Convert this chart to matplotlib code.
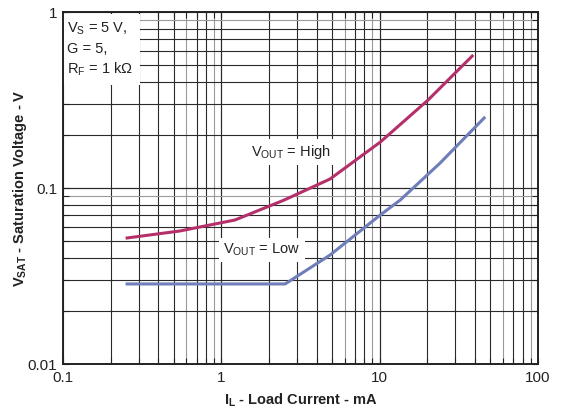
import matplotlib
matplotlib.use("Agg")
import matplotlib.pyplot as plt
from matplotlib.ticker import FixedLocator, NullFormatter, FixedFormatter

plt.rcParams["font.family"] = ["Liberation Sans", "DejaVu Sans"]
plt.rcParams["mathtext.fontset"] = "custom"
plt.rcParams["mathtext.rm"] = "Liberation Sans"
plt.rcParams["mathtext.it"] = "Liberation Sans:italic"
plt.rcParams["mathtext.bf"] = "Liberation Sans:bold"

# load current (mA) vs saturation voltage (V)
high_x = [0.254, 0.548, 1.22, 2.5, 4.86, 10.1, 20.2, 38.4]
high_y = [0.052, 0.057, 0.0658, 0.0855, 0.1125, 0.1825, 0.316, 0.562]

low_x = [0.254, 2.53, 4.86, 10.1, 13.5, 24.1, 45.7]
low_y = [0.0285, 0.0285, 0.0416, 0.0703, 0.0855, 0.1387, 0.25]

x_ticks = [0.1, 1, 10, 100]
x_tick_labels = ["0.1", "1", "10", "100"]
y_ticks = [0.01, 0.1, 1]
y_tick_labels = ["0.01", "0.1", "1"]

HIGH_COLOR = "#b5306b"
LOW_COLOR = "#6e7eb8"
TEXT_COLOR = "#222222"

fig = plt.figure(figsize=(5.61, 4.12), dpi=100)
ax = fig.add_axes([63 / 561, 1 - 364 / 412, 475 / 561, 352 / 412])
ax.set_xscale("log")
ax.set_yscale("log")
ax.set_xlim(0.1, 100)
ax.set_ylim(0.01, 1)

# grid: every integer multiple inside each decade
for decade in [0.1, 1, 10]:
    for m in range(1, 11):
        col = "#9a9a9a" if m in (6, 9) else "#2a2a2a"
        ax.axvline(decade * m, color=col, lw=0.8, zorder=1)
for decade in [0.01, 0.1]:
    for m in range(1, 11):
        col = "#9a9a9a" if m == 9 else "#2a2a2a"
        ax.axhline(decade * m, color=col, lw=0.8, zorder=1)

ax.plot(high_x, high_y, color=HIGH_COLOR, lw=2.2, zorder=4)
ax.plot(low_x, low_y, color=LOW_COLOR, lw=2.2, zorder=4)

ax.xaxis.set_major_locator(FixedLocator(x_ticks))
ax.xaxis.set_major_formatter(FixedFormatter(x_tick_labels))
ax.xaxis.set_minor_formatter(NullFormatter())
ax.yaxis.set_major_locator(FixedLocator(y_ticks))
ax.yaxis.set_major_formatter(FixedFormatter(y_tick_labels))
ax.yaxis.set_minor_formatter(NullFormatter())
ax.tick_params(which="both", direction="in", top=True, right=True,
               labelsize=11, colors=TEXT_COLOR, length=4, width=0.8)
ax.tick_params(axis="x", pad=5)
ax.tick_params(axis="y", pad=4)

for s in ax.spines.values():
    s.set_linewidth(1.4)
    s.set_color(TEXT_COLOR)
    s.set_zorder(5)

ax.set_xlabel(r"$\mathbf{I_L}$ - Load Current - mA", fontsize=10.5,
              fontweight="bold", labelpad=5, color=TEXT_COLOR)
ax.set_ylabel(r"$\mathbf{V_{SAT}}$ - Saturation Voltage - V", fontsize=10.5,
              fontweight="bold", labelpad=-1, color=TEXT_COLOR)

box = dict(facecolor="white", edgecolor="none", pad=3)
ax.text(0.008, 0.975, "V$_\\mathrm{S}$ = 5 V,\nG = 5,\nR$_\\mathrm{F}$ = 1 k\u03a9",
        transform=ax.transAxes, ha="left", va="top", fontsize=10.5,
        color=TEXT_COLOR, linespacing=1.4, zorder=2,
        bbox=dict(facecolor="white", edgecolor="none", pad=5))
ax.text(2.76, 0.160, "V$_\\mathrm{OUT}$ = High", ha="center", va="center",
        fontsize=10.5, color=TEXT_COLOR, zorder=2, bbox=box)
ax.text(1.81, 0.0444, "V$_\\mathrm{OUT}$ = Low", ha="center", va="center",
        fontsize=10.5, color=TEXT_COLOR, zorder=2, bbox=box)

fig.savefig("out.png", dpi=100)
